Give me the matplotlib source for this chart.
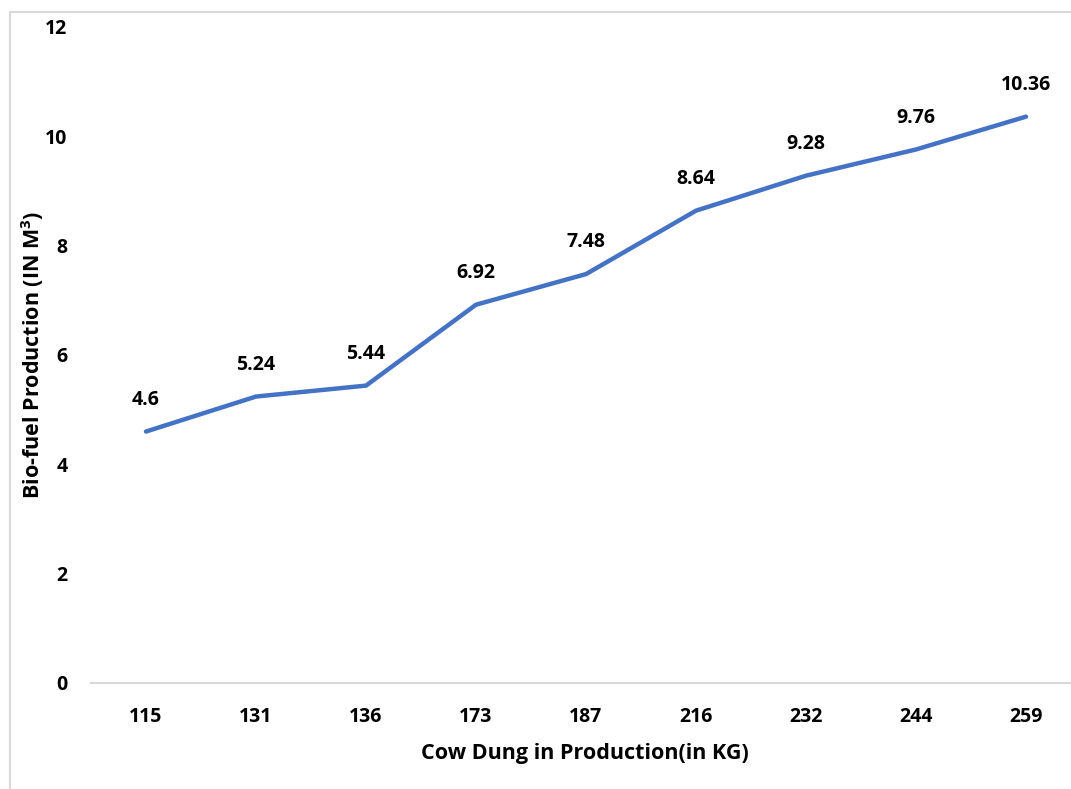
import matplotlib.pyplot as plt
from matplotlib.patches import Rectangle
import numpy as np

plt.rcParams['font.family'] = ['Open Sans', 'DejaVu Sans']
plt.rcParams['font.weight'] = 'bold'
plt.rcParams['mathtext.fontset'] = 'custom'
plt.rcParams['mathtext.bf'] = 'Open Sans:bold'

# cow dung input (kg) and gas output (m3)
dung_kg = ['115', '131', '136', '173', '187', '216', '232', '244', '259']
biofuel = [4.6, 5.24, 5.44, 6.92, 7.48, 8.64, 9.28, 9.76, 10.36]
yticks = [0, 2, 4, 6, 8, 10, 12]

W, H = 1071, 789
fig = plt.figure(figsize=(W / 100, H / 100), dpi=100)

# chart area frame
fig.patches.append(Rectangle((10 / W, -0.1), 1.2, 1 - 12 / H + 0.1, transform=fig.transFigure,
                             fill=False, edgecolor='#d9d9d9', linewidth=1.5))

ax = fig.add_axes([91 / W, 1 - 683 / H, 990 / W, 656 / H])
x = np.arange(len(dung_kg))
ax.plot(x, biofuel, color='#4472C4', linewidth=3.2, solid_capstyle='round')

for xi, v in zip(x, biofuel):
    ax.annotate(f'{v:g}', (xi, v), xytext=(0, 23), textcoords='offset points',
                ha='center', va='center', fontsize=14, fontweight='bold')

ax.set_xlim(-0.5, len(dung_kg) - 0.5)
ax.set_ylim(0, 12)
ax.set_xticks(x)
ax.set_xticklabels(dung_kg)
ax.set_yticks(yticks)
ax.tick_params(axis='both', length=0, labelsize=14)
ax.tick_params(axis='x', pad=17)
ax.tick_params(axis='y', pad=17)
for lbl in ax.get_xticklabels() + ax.get_yticklabels():
    lbl.set_fontweight('bold')

for side in ['top', 'right', 'left']:
    ax.spines[side].set_visible(False)
ax.spines['bottom'].set_color('#d9d9d9')
ax.spines['bottom'].set_linewidth(1.5)

fig.text(585 / W, 1 - 753 / H, 'Cow Dung in Production(in KG)', ha='center', va='center',
         fontsize=15.5, fontweight='bold')
fig.text(33 / W, 1 - 355 / H, 'Bio-fuel Production (IN M$^\\mathbf{3}$)', ha='center', va='center',
         rotation=90, fontsize=15.5, fontweight='bold')

fig.savefig('out.png', dpi=100, facecolor='white')
